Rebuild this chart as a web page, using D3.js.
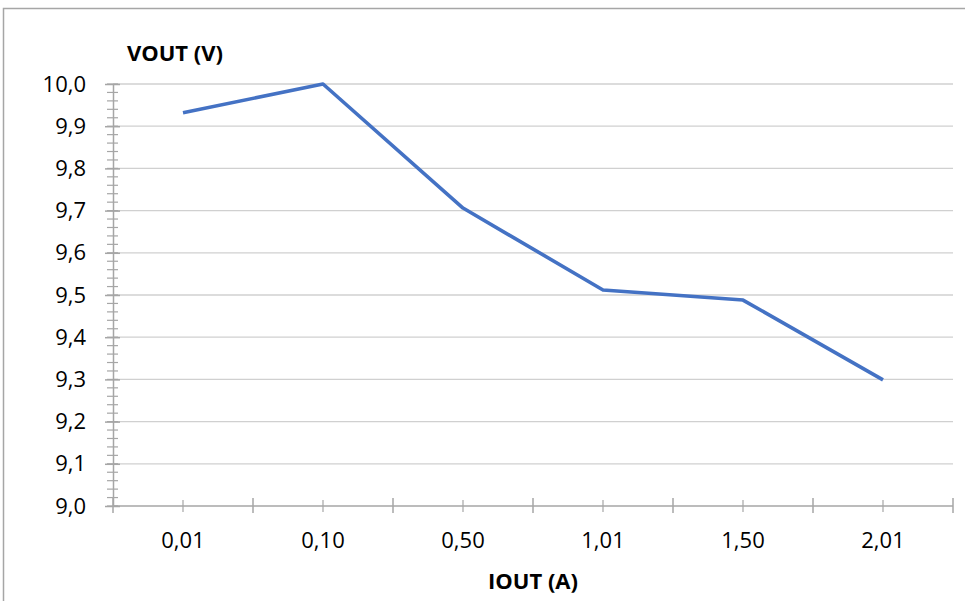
<!DOCTYPE html>
<html>
<head>
<meta charset="utf-8">
<script src="https://cdn.jsdelivr.net/npm/d3@7"></script>
<style>
  body { margin: 0; background: #fff; }
  text { font-family: "Open Sans", "Noto Sans", sans-serif; fill: #000; }
</style>
</head>
<body>
<div id="chart"></div>
<script>
const categories = ["0,01", "0,10", "0,50", "1,01", "1,50", "2,01"]
const vout = [9.932, 10.0, 9.706, 9.512, 9.488, 9.299]
const yTicks = [9.0, 9.1, 9.2, 9.3, 9.4, 9.5, 9.6, 9.7, 9.8, 9.9, 10.0]
const yTitle = "VOUT (V)"
const xTitle = "IOUT (A)"

const W = 965, H = 601
const margin = ({top: 84, right: 12, bottom: 95, left: 113})
const width = W - margin.left - margin.right
const height = H - margin.top - margin.bottom

const svg = d3.select("#chart").append("svg")
    .attr("width", W)
    .attr("height", H)

// chart border
svg.append("rect")
    .attr("x", 3.5).attr("y", 8.5)
    .attr("width", W + 20).attr("height", H + 20)
    .attr("fill", "none")
    .attr("stroke", "#a6a6a6")
    .attr("stroke-width", 1.5)

const g = svg.append("g")
    .attr("transform", `translate(${margin.left},${margin.top})`)

const x = d3.scaleBand().domain(categories).range([0, width])
const y = d3.scaleLinear().domain([9.0, 10.0]).range([height, 0])

// gridlines
g.append("g")
    .selectAll("line")
    .data(yTicks.slice(1))
    .join("line")
    .attr("x1", 0).attr("x2", width)
    .attr("y1", d => y(d)).attr("y2", d => y(d))
    .attr("stroke", "#d0d0d0")
    .attr("stroke-width", 1.3)

// y minor ticks
const minor = d3.range(9.0, 10.0001, 0.02)
g.append("g")
    .selectAll("line")
    .data(minor)
    .join("line")
    .attr("x1", -6).attr("x2", 5)
    .attr("y1", d => y(d)).attr("y2", d => y(d))
    .attr("stroke", "#a6a6a6")
    .attr("stroke-width", 1.2)

// y axis
const yAxis = d3.axisLeft(y)
    .tickValues(yTicks)
    .tickFormat(d => d3.format(".1f")(d).replace(".", ","))
    .tickSizeInner(8)
    .tickSizeOuter(0)
    .tickPadding(19)

const ya = g.append("g").attr("class", "y-axis").call(yAxis)
ya.select(".domain").attr("stroke", "#a6a6a6").attr("stroke-width", 1.5)
ya.selectAll(".tick line").attr("x2", 7).attr("x1", -8).attr("stroke", "#a6a6a6").attr("stroke-width", 1.5)
ya.selectAll(".tick text").attr("font-size", 22).attr("font-family", "Open Sans").attr("fill", "#000")

// x axis: major ticks on category boundaries, minor at centres
const xa = g.append("g").attr("class", "x-axis")
    .attr("transform", `translate(0,${height})`)

xa.append("line")
    .attr("x1", 0).attr("x2", width)
    .attr("stroke", "#a6a6a6").attr("stroke-width", 1.5)

const bounds = categories.map(c => x(c)).concat([width])
xa.selectAll(".major")
    .data(bounds)
    .join("line")
    .attr("class", "major")
    .attr("x1", d => d).attr("x2", d => d)
    .attr("y1", -8).attr("y2", 7)
    .attr("stroke", "#a6a6a6").attr("stroke-width", 1.5)

xa.selectAll(".minor")
    .data(categories)
    .join("line")
    .attr("class", "minor")
    .attr("x1", d => x(d) + x.bandwidth() / 2).attr("x2", d => x(d) + x.bandwidth() / 2)
    .attr("y1", -6).attr("y2", 6)
    .attr("stroke", "#a6a6a6").attr("stroke-width", 1.2)

xa.selectAll("text")
    .data(categories)
    .join("text")
    .attr("x", d => x(d) + x.bandwidth() / 2)
    .attr("y", 42)
    .attr("text-anchor", "middle")
    .attr("font-size", 22)
    .text(d => d)

// line
const line = d3.line()
    .x((d, i) => x(categories[i]) + x.bandwidth() / 2)
    .y(d => y(d))

g.append("path")
    .datum(vout)
    .attr("d", line)
    .attr("fill", "none")
    .attr("stroke", "#4472c4")
    .attr("stroke-width", 3.6)
    .attr("stroke-linejoin", "round")

// titles
svg.append("text")
    .attr("x", 175).attr("y", 61)
    .attr("text-anchor", "middle")
    .attr("font-size", 22)
    .attr("font-weight", "bold")
    .text(yTitle)

svg.append("text")
    .attr("x", margin.left + width / 2).attr("y", 589)
    .attr("text-anchor", "middle")
    .attr("font-size", 22)
    .attr("font-weight", "bold")
    .text(xTitle)
</script>
</body>
</html>
